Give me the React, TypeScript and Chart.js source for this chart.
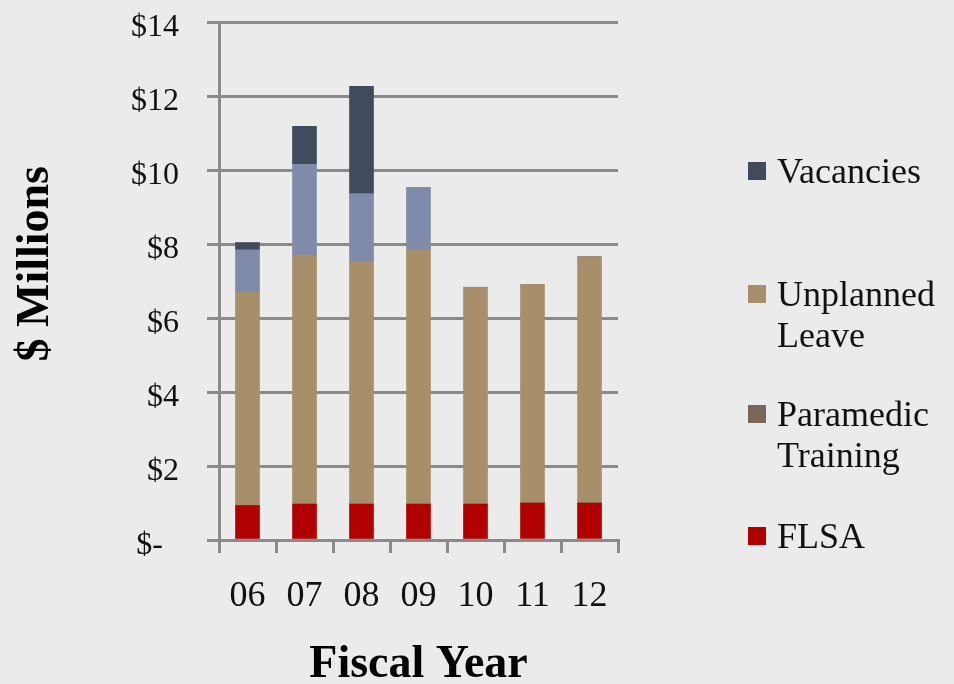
import React, { useEffect, useRef } from "react";
import { Chart, registerables } from "chart.js";

Chart.register(...registerables);

// ---- Data (values in $ millions) ----
const categories = ["06", "07", "08", "09", "10", "11", "12"];
const flsa = [0.93, 0.97, 0.97, 0.97, 0.97, 1.0, 1.0];
const paramedicTraining = [0, 0, 0, 0, 0, 0, 0];
const unplannedLeave = [5.77, 6.73, 6.55, 6.87, 5.86, 5.91, 6.66];
const otherCosts = [1.14, 2.45, 1.84, 1.68, 0, 0, 0];
const vacancies = [0.2, 1.03, 2.9, 0, 0, 0, 0];
const yTickLabels = ["$-\u2002", "$2", "$4", "$6", "$8", "$10", "$12", "$14"];

const FONT = "'Liberation Serif', 'Times New Roman', serif";
const GRID = "#8a8a8a";

const sideLegend = {
  id: "sideLegend",
  afterDraw(chart: any) {
    const ctx = chart.ctx as CanvasRenderingContext2D;
    const items = chart.data.datasets
      .filter((d: any) => !d.hideInLegend)
      .map((d: any) => ({ label: d.label as string, color: d.backgroundColor as string }))
      .reverse();
    const baselines = [183, 306, 426, 548];
    ctx.save();
    ctx.font = `36px ${FONT}`;
    ctx.textBaseline = "alphabetic";
    ctx.textAlign = "left";
    items.forEach((it: any, k: number) => {
      const b = baselines[k];
      ctx.fillStyle = it.color;
      ctx.fillRect(748, b - 21, 18, 18);
      ctx.fillStyle = "#111";
      it.label.split(" ").forEach((ln: string, j: number) => {
        ctx.fillText(ln, 777, b + j * 41);
      });
    });
    ctx.restore();
  },
};

export default function App() {
  const ref = useRef<HTMLCanvasElement | null>(null);

  useEffect(() => {
    if (!ref.current) return;
    const chart = new Chart(ref.current, {
      type: "bar",
      data: {
        labels: categories,
        datasets: [
          { label: "FLSA", data: flsa, backgroundColor: "#b00000" },
          { label: "Paramedic Training", data: paramedicTraining, backgroundColor: "#7a6659" },
          { label: "Unplanned Leave", data: unplannedLeave, backgroundColor: "#a88f6c" },
          { label: "Other", data: otherCosts, backgroundColor: "#7f8ba8", hideInLegend: true } as any,
          { label: "Vacancies", data: vacancies, backgroundColor: "#404b5b" },
        ],
      },
      options: {
        responsive: false,
        animation: false,
        barThickness: 24,
        layout: { padding: { top: 22, right: 336, left: 0, bottom: 0 } },
        plugins: {
          legend: { display: false },
          tooltip: { enabled: false },
        },
        scales: {
          x: {
            stacked: true,
            grid: {
              display: true,
              drawOnChartArea: false,
              drawTicks: true,
              tickLength: 13,
              color: GRID,
              lineWidth: 3,
              offset: true,
            },
            border: { display: true, color: GRID, width: 3 },
            ticks: {
              font: { family: FONT, size: 36 },
              color: "#111",
              padding: 22,
              maxRotation: 0,
            },
            title: {
              display: true,
              text: "Fiscal Year",
              color: "#000",
              font: { family: FONT, size: 46, weight: "bold" },
              padding: { top: 0, bottom: -9 },
            },
            afterFit: (s: any) => {
              s.height = 144;
              s.paddingLeft = 0;
              s.paddingRight = 0;
            },
          },
          y: {
            stacked: true,
            min: 0,
            max: 14,
            ticks: {
              stepSize: 2,
              callback: (_v: any, i: number) => yTickLabels[i],
              font: { family: FONT, size: 32 },
              color: "#111",
              padding: 28,
              labelOffset: 6,
            },
            grid: { color: GRID, lineWidth: 3, tickLength: 12, drawTicks: true },
            border: { display: true, color: GRID, width: 3 },
            title: {
              display: true,
              text: "   $ Millions",
              color: "#000",
              font: { family: FONT, size: 46, weight: "bold" },
              padding: { top: 9, bottom: 0 },
            },
            afterFit: (s: any) => {
              s.width = 219;
              s.paddingTop = 0;
              s.paddingBottom = 0;
            },
          },
        },
      } as any,
      plugins: [sideLegend],
    });
    return () => chart.destroy();
  }, []);

  return (
    <div
      style={{
        position: "fixed",
        left: 0,
        top: 0,
        width: 954,
        height: 684,
        background: "#ebebeb",
      }}
    >
      <canvas ref={ref} width={954} height={684} />
    </div>
  );
}
